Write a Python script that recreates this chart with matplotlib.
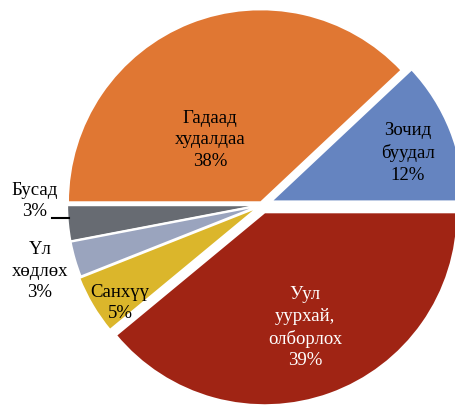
import matplotlib
matplotlib.use('Agg')
import matplotlib.pyplot as plt

# данные
labels = ['Зочид\nбуудал', 'Гадаад\nхудалдаа', 'Бусад', 'Үл\nхөдлөх', 'Санхүү', 'Уул\nуурхай,\nолборлох']
values = [12, 38, 3, 3, 5, 39]
colors = ['#6584C0', '#E07733', '#676B72', '#9AA4BE', '#DBB62B', '#A02414']
explode = [0.05, 0.015, 0.01, 0.01, 0.02, 0.04]

# положение подписей (в координатах осей данных)
label_xy = [(0.756, 0.27), (-0.27, 0.337), (-1.176, 0.02), (-1.15, -0.342),
            (-0.736, -0.508), (0.223, -0.637)]
label_colors = ['black', 'black', 'black', 'black', 'black', 'white']

plt.rcParams['font.family'] = ['Liberation Serif', 'DejaVu Serif']

fig = plt.figure(figsize=(4.56, 4.07), dpi=100)
ax = fig.add_axes([0, 0, 1, 1])

ax.pie(values, colors=colors, explode=explode, startangle=0, counterclock=True,
       wedgeprops=dict(edgecolor='white', linewidth=1.5))

for lab, v, (x, y), c in zip(labels, values, label_xy, label_colors):
    ax.text(x, y, f'{lab}\n{v}%', ha='center', va='center', fontsize=13.5,
            color=c, linespacing=1.35)

# выноска для "Бусад"
ax.plot([-1.088, -1.0], [-0.067, -0.067], color='black', lw=1.5)

ax.set_aspect('auto')
ax.set_xlim(-262 / 193, (456 - 262) / 193)
ax.set_ylim(-(407 - 205) / 193, 205 / 193)
ax.axis('off')

fig.savefig('out.png', dpi=100)
